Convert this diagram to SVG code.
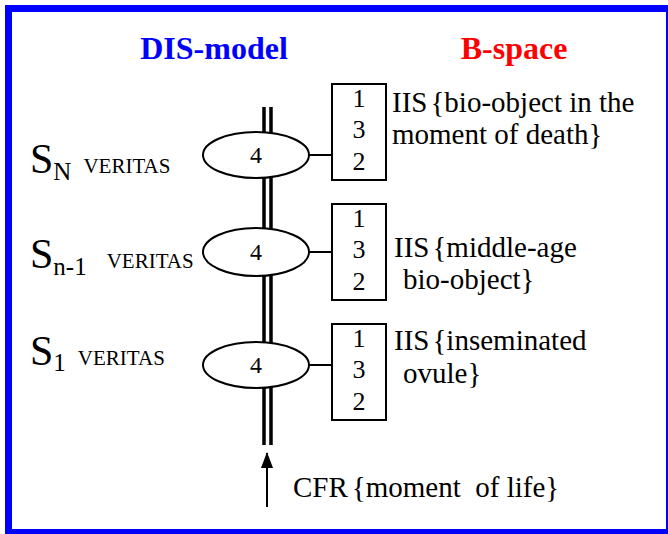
<svg xmlns="http://www.w3.org/2000/svg" width="668" height="534" viewBox="0 0 668 534">
  <style>
    text { font-family: 'Liberation Serif', serif; fill: #000; }
    .title { font-weight: bold; font-size: 32px; text-anchor: middle; }
    .num { font-size: 26px; text-anchor: middle; }
    .four { font-size: 24px; text-anchor: middle; }
    .iis { font-size: 29px; }
    .big { font-size: 42px; }
    .sub { font-size: 25px; }
    .ver { font-size: 21px; }
    .node { fill: #fff; stroke: #000; stroke-width: 2; }
    .link { stroke: #000; stroke-width: 2; fill: none; }
    .rail { stroke: #000; stroke-width: 3.5; }
  </style>
  <defs>
    <marker id="arrowhead" markerWidth="16" markerHeight="12" refX="15" refY="6" orient="auto" markerUnits="userSpaceOnUse" viewBox="0 0 16 12">
      <path d="M0,0 L16,6 L0,12 Z" fill="#000"/>
    </marker>
  </defs>

  <rect width="668" height="534" fill="#fff"/>
  <!-- frame -->
  <rect x="8.5" y="8.5" width="661" height="524" fill="none" stroke="#0000ff" stroke-width="7"/>

  <!-- headings -->
  <text class="title" x="214" y="59" style="fill:#0000ff">DIS-model</text>
  <text class="title" x="514" y="59" style="fill:#ff0000">B-space</text>

  <!-- connectors -->
  <g id="connectors">
    <line class="rail" x1="264" y1="107" x2="264" y2="445"/>
    <line class="rail" x1="271" y1="107" x2="271" y2="445"/>
    <line class="link" x1="309" y1="155" x2="332" y2="155"/>
    <line class="link" x1="309" y1="252" x2="332" y2="252"/>
    <line class="link" x1="309" y1="365" x2="332" y2="365"/>
    <line class="link" x1="267" y1="507" x2="267" y2="453" marker-end="url(#arrowhead)"/>
  </g>

  <!-- state S_N -->
  <g id="stateN">
    <text class="big" x="30" y="173">S<tspan class="sub" dy="7">N</tspan><tspan class="ver" dx="12" dy="-7">VERITAS</tspan></text>
    <ellipse class="node" cx="256" cy="155" rx="53" ry="23"/>
    <text class="four" x="256" y="163">4</text>
  </g>
  <g id="boxN">
    <rect class="node" x="332" y="84" width="54" height="96"/>
    <text class="num" x="359" y="107">1</text>
    <text class="num" x="359" y="138">3</text>
    <text class="num" x="359" y="170">2</text>
    <text class="iis" x="392" y="112">IIS<tspan dx="3">{bio-object in the</tspan></text>
    <text class="iis" x="392" y="144">moment of death}</text>
  </g>

  <!-- state S_n-1 -->
  <g id="stateN1">
    <text class="big" x="30" y="268">S<tspan class="sub" dy="7">n-1</tspan><tspan class="ver" dx="20" dy="-7">VERITAS</tspan></text>
    <ellipse class="node" cx="256" cy="252" rx="53" ry="24"/>
    <text class="four" x="256" y="260">4</text>
  </g>
  <g id="boxN1">
    <rect class="node" x="332" y="204" width="54" height="96"/>
    <text class="num" x="359" y="227">1</text>
    <text class="num" x="359" y="258">3</text>
    <text class="num" x="359" y="290">2</text>
    <text class="iis" x="394" y="257">IIS<tspan dx="3">{middle-age</tspan></text>
    <text class="iis" x="403" y="289">bio-object}</text>
  </g>

  <!-- state S_1 -->
  <g id="state1">
    <text class="big" x="30" y="365">S<tspan class="sub" dy="6">1</tspan><tspan class="ver" dx="12" dy="-6">VERITAS</tspan></text>
    <ellipse class="node" cx="256" cy="365" rx="53" ry="23"/>
    <text class="four" x="256" y="373">4</text>
  </g>
  <g id="box1">
    <rect class="node" x="332" y="324" width="54" height="96"/>
    <text class="num" x="359" y="347">1</text>
    <text class="num" x="359" y="378">3</text>
    <text class="num" x="359" y="410">2</text>
    <text class="iis" x="394" y="350">IIS<tspan dx="3">{inseminated</tspan></text>
    <text class="iis" x="403" y="383">ovule}</text>
  </g>

  <!-- initial condition -->
  <g id="origin">
    <text class="iis" x="293" y="497" xml:space="preserve">CFR<tspan dx="4">{moment  of life}</tspan></text>
  </g>
</svg>
